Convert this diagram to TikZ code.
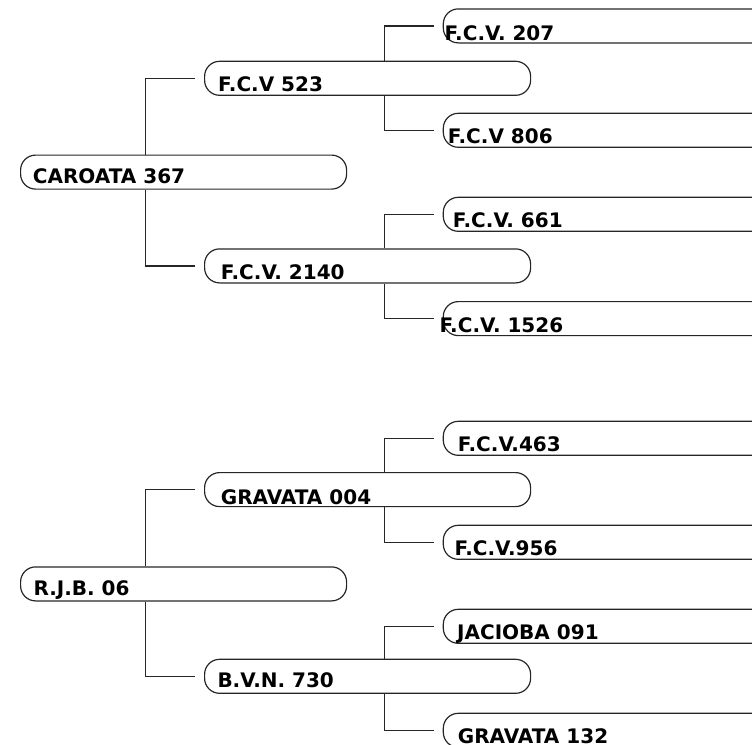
\documentclass[tikz,border=0pt]{standalone}
\usepackage{fontspec}
\setmainfont{DejaVu Sans}
\begin{document}
\begin{tikzpicture}[x=1pt,y=-1pt]
  % Colors
  \colorlet{linecolor}{black!85}

  % Styles
  \tikzstyle{branch}=[draw=linecolor,line width=1.2pt,rounded corners=15pt,
    minimum width=326pt,minimum height=34pt,inner sep=0pt,anchor=north west]
  \tikzstyle{leaf}=[branch,minimum width=420pt]
  \tikzstyle{name text}=[anchor=base west,inner sep=0pt,
    font=\fontsize{20}{20}\selectfont\bfseries]
  \tikzstyle{link}=[draw=linecolor,line width=1.2pt]

  \useasboundingbox (0,0) rectangle (752,744);
  \clip (0,0) rectangle (752,744);

  % The boxes
  \foreach \n/\x/\y in {caroata/20/154.5, rjb/20/566.3,
      fcv523/204/60.7, fcv2140/204/248.3, grav004/204/472, bvn730/204/658.7}
    \node[branch] (\n) at (\x,\y) {};

  \foreach \n/\y in {fcv207/8.3, fcv806/112.7, fcv661/196.7, fcv1526/301,
      fcv463/420.7, fcv956/524.7, jac091/608.7, grav132/712.7}
    \node[leaf] (\n) at (442.7,\y) {};

  % Names, sitting on the bottom line
  \foreach \n/\dx/\dy/\t in {caroata/12.7/-5.8/CAROATA 367,
      fcv523/14/-4/F.C.V 523, fcv2140/16.7/-4/F.C.V. 2140,
      fcv207/1.6/-3/F.C.V. 207, fcv806/5/-4/F.C.V 806,
      fcv661/10/-4/F.C.V. 661, fcv1526/-3.4/-4/F.C.V. 1526,
      rjb/13.3/-6/R.J.B. 06,
      grav004/16.7/-3/GRAVATA 004, bvn730/13.3/-6.7/B.V.N. 730,
      fcv463/15/-4/F.C.V.463, fcv956/11.7/-4/F.C.V.956,
      jac091/14.3/-4/JACIOBA 091, grav132/15/-4/GRAVATA 132}
    \node[name text] (\n-name) at ([shift={(\dx,\dy)}]\n.south west) {\t};

  % The tree lines
  \foreach \p/\a/\b/\d in {caroata/fcv523/fcv2140/125.7,
      rjb/grav004/bvn730/125.7,
      fcv523/fcv207/fcv806/180.3, fcv2140/fcv661/fcv1526/180.3,
      grav004/fcv463/fcv956/180.3, bvn730/jac091/grav132/180.3}
  {
    \draw[link] ([xshift=\d pt]\p.north west) |- ([xshift=-9pt]\a.west);
    \draw[link] ([xshift=\d pt]\p.south west) |- ([xshift=-9pt]\b.west);
  }
\end{tikzpicture}
\end{document}
